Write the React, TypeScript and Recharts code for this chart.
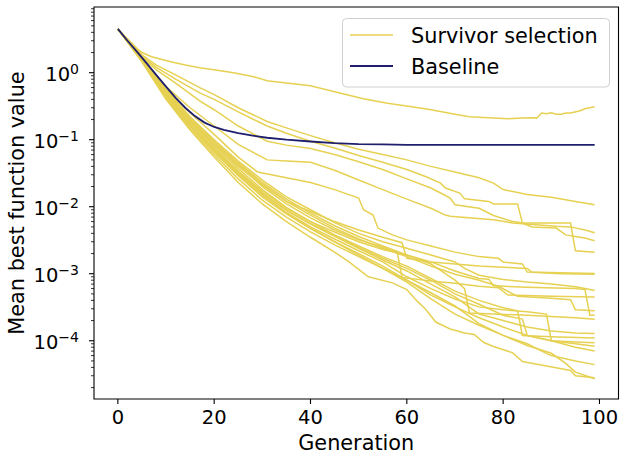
import { LineChart, Line, XAxis, YAxis, Legend, ReferenceArea } from 'recharts';

const FONT = '"DejaVu Sans", sans-serif';
const YELLOW = '#e6d152';
const NAVY = '#1f1f6e';

// plot box (px) used for axis decorations
const PLOT_LEFT = 94;
const PLOT_RIGHT = 618.5;
const PLOT_TOP = 7;
const PLOT_BOTTOM = 399;

const X_DOMAIN = [-4.95, 103.95];
const Y_DOMAIN = [1.35e-5, 9.56];

const generationTicks = [0, 20, 40, 60, 80, 100];
const decadeTicks = [1e-4, 1e-3, 1e-2, 1e-1, 1];
const minorDecades = [1e-5, 1e-4, 1e-3, 1e-2, 1e-1, 1];
const minorSteps = [2, 3, 4, 5, 6, 7, 8, 9];
const valueTicks = [
  ...decadeTicks,
  ...minorDecades.flatMap(d => minorSteps.map(m => m * d)),
].filter(v => v >= Y_DOMAIN[0] && v <= Y_DOMAIN[1]).sort((a, b) => a - b);

// [generation, mean best value]
const baselineRun = [[0, 4.5], [2, 3.0], [4, 2.05], [6, 1.38], [8, 0.92], [10, 0.62], [12, 0.42], [14, 0.3], [16, 0.225], [18, 0.18], [20, 0.155], [22, 0.14], [25, 0.125], [28, 0.115], [31, 0.107], [35, 0.1], [40, 0.094], [45, 0.089], [50, 0.086], [55, 0.085], [60, 0.084], [70, 0.084], [80, 0.084], [90, 0.084], [99, 0.084]];

const run01 = [[0, 4.5], [2, 3.2], [4, 2.3], [5, 2.0], [7, 1.73], [11, 1.46], [14, 1.3], [17, 1.19], [21, 1.08], [24, 1.0], [28, 0.88], [31, 0.76], [35, 0.7], [40, 0.64], [45, 0.52], [48, 0.46], [51, 0.41], [56, 0.35], [61, 0.31], [65, 0.28], [70, 0.24], [73, 0.22], [78, 0.21], [81, 0.205], [84, 0.21], [86, 0.212], [87, 0.21], [88, 0.25], [89, 0.245], [90, 0.252], [91, 0.24], [92, 0.24], [93, 0.25], [94, 0.25], [96, 0.27], [97, 0.29], [98, 0.3], [99, 0.31]];
const run02 = [[0, 4.5], [5, 1.85], [8, 1.3], [12, 0.93], [17, 0.6], [20, 0.47], [25, 0.3], [31, 0.187], [35, 0.15], [40, 0.115], [45, 0.09], [50, 0.072], [55, 0.06], [60, 0.05], [65, 0.04], [70, 0.033], [75, 0.027], [78, 0.0225], [80, 0.018], [85, 0.0152], [90, 0.0138], [95, 0.012], [99, 0.0107]];
const run03 = [[0, 4.5], [5, 1.75], [8, 1.2], [12, 0.8], [17, 0.5], [20, 0.4], [25, 0.26], [31, 0.16], [35, 0.125], [40, 0.095], [45, 0.075], [50, 0.058], [55, 0.046], [60, 0.036], [64, 0.028], [67, 0.0225], [68, 0.019], [71, 0.016], [72, 0.0131], [77, 0.012], [78, 0.011], [83, 0.011], [84, 0.0057], [86, 0.005], [91, 0.0048], [93, 0.0038], [95, 0.0036], [97, 0.0034], [99, 0.0031]];
const run04 = [[0, 4.5], [5, 1.7], [8, 1.1], [12, 0.7], [17, 0.38], [20, 0.28], [25, 0.16], [31, 0.095], [35, 0.083], [40, 0.074], [45, 0.06], [50, 0.047], [55, 0.036], [60, 0.026], [65, 0.019], [67, 0.016], [69, 0.0134], [70, 0.0107], [75, 0.0095], [78, 0.0074], [82, 0.006], [84, 0.0057], [94, 0.0057], [95, 0.0022], [99, 0.0021]];
const run05 = [[0, 4.5], [5, 1.62], [10, 0.62], [15, 0.3], [20, 0.16], [25, 0.085], [31, 0.05], [35, 0.048], [40, 0.046], [45, 0.035], [50, 0.025], [55, 0.018], [60, 0.013], [65, 0.0095], [68, 0.0075], [69, 0.0072], [78, 0.0064], [82, 0.0057], [91, 0.0051], [94, 0.005], [97, 0.0045], [99, 0.0041]];
const run06 = [[0, 4.5], [5, 1.6], [10, 0.56], [15, 0.25], [20, 0.12], [25, 0.055], [29, 0.033], [35, 0.027], [40, 0.023], [45, 0.018], [50, 0.0135], [51, 0.009], [53, 0.0075], [54, 0.0048], [57, 0.0038], [60, 0.0032], [65, 0.0026], [70, 0.0021], [75, 0.0018], [79, 0.0017], [80, 0.0015], [84, 0.0014], [85, 0.00106], [99, 0.00101]];
const run07 = [[0, 4.5], [5, 1.6], [10, 0.5], [15, 0.19], [20, 0.085], [25, 0.04], [30, 0.021], [35, 0.012], [40, 0.0085], [45, 0.006], [50, 0.0045], [55, 0.0035], [59, 0.0029], [60, 0.0017], [65, 0.0015], [70, 0.0014], [75, 0.0013], [80, 0.00125], [85, 0.0012], [86, 0.00105], [92, 0.001], [99, 0.00098]];
const run08 = [[0, 4.5], [5, 1.65], [10, 0.55], [15, 0.22], [20, 0.1], [25, 0.048], [30, 0.025], [35, 0.014], [40, 0.009], [45, 0.0058], [50, 0.004], [55, 0.003], [60, 0.0024], [65, 0.0019], [70, 0.0015], [72, 0.0012], [75, 0.00095], [80, 0.00082], [85, 0.00075], [90, 0.0007], [95, 0.00064], [97, 0.0006], [99, 0.00056]];
const run09 = [[0, 4.5], [5, 1.58], [10, 0.5], [15, 0.19], [20, 0.085], [25, 0.042], [30, 0.02], [35, 0.011], [40, 0.0068], [45, 0.0045], [50, 0.0032], [55, 0.0025], [58, 0.0021], [59, 0.00088], [65, 0.00078], [70, 0.00072], [75, 0.00065], [79, 0.00062], [81, 0.00048], [90, 0.00046], [99, 0.00045]];
const run10 = [[0, 4.5], [5, 1.6], [10, 0.52], [15, 0.2], [20, 0.09], [25, 0.044], [30, 0.022], [35, 0.012], [40, 0.0075], [45, 0.0048], [50, 0.0033], [55, 0.0024], [60, 0.0018], [65, 0.0013], [70, 0.00098], [75, 0.0008], [79, 0.00065], [83, 0.00046], [90, 0.00043], [94, 0.00041], [95, 0.00029], [99, 0.00028]];
const run11 = [[0, 4.5], [5, 1.55], [10, 0.47], [15, 0.17], [20, 0.075], [25, 0.034], [30, 0.017], [35, 0.0095], [40, 0.006], [45, 0.0042], [50, 0.003], [55, 0.0023], [60, 0.0019], [65, 0.0015], [70, 0.0011], [75, 0.00085], [77, 0.00083], [78, 0.00066], [85, 0.00063], [95, 0.0006], [97, 0.00058], [98, 0.00024], [99, 0.00024]];
const run12 = [[0, 4.5], [5, 1.62], [10, 0.53], [15, 0.21], [20, 0.095], [25, 0.045], [30, 0.023], [35, 0.013], [40, 0.008], [45, 0.0052], [50, 0.0036], [55, 0.0026], [60, 0.0019], [65, 0.0014], [70, 0.0008], [72, 0.0006], [73, 0.00026], [78, 0.00025], [85, 0.00024], [90, 0.00023], [95, 0.00022], [99, 0.00021]];
const run13 = [[0, 4.5], [5, 1.57], [10, 0.48], [15, 0.18], [20, 0.08], [25, 0.037], [30, 0.018], [35, 0.0098], [40, 0.006], [45, 0.0038], [50, 0.0026], [55, 0.0018], [60, 0.0013], [65, 0.00085], [70, 0.00055], [75, 0.0004], [80, 0.00031], [83, 0.00028], [84, 0.00012], [90, 0.000115], [99, 0.00011]];
const run14 = [[0, 4.5], [5, 1.55], [10, 0.46], [15, 0.17], [20, 0.072], [25, 0.033], [30, 0.016], [35, 0.0088], [40, 0.0055], [45, 0.0036], [50, 0.0024], [55, 0.0016], [60, 0.0011], [65, 0.0007], [70, 0.00045], [75, 0.00025], [80, 0.0002], [85, 0.00016], [90, 0.00014], [95, 0.00013], [99, 0.000128]];
const run15 = [[0, 4.5], [5, 1.52], [10, 0.44], [15, 0.16], [20, 0.068], [25, 0.03], [30, 0.015], [35, 0.0082], [40, 0.005], [45, 0.0033], [50, 0.0022], [55, 0.0015], [60, 0.0009], [65, 0.0006], [70, 0.00042], [75, 0.00032], [80, 0.00029], [85, 0.00027], [89, 0.00025], [90, 0.0001], [95, 0.000096], [99, 0.000093]];
const run16 = [[0, 4.5], [5, 1.5], [10, 0.43], [15, 0.155], [20, 0.065], [25, 0.029], [30, 0.014], [35, 0.0078], [40, 0.0047], [45, 0.003], [50, 0.002], [55, 0.0013], [60, 0.0008], [65, 0.00048], [70, 0.00032], [75, 0.00022], [80, 0.00016], [85, 0.00012], [90, 0.0001], [95, 0.00009], [99, 0.000083]];
const run17 = [[0, 4.5], [5, 1.53], [10, 0.45], [15, 0.165], [20, 0.07], [25, 0.032], [30, 0.016], [35, 0.009], [40, 0.0056], [45, 0.0037], [50, 0.0025], [55, 0.0017], [60, 0.0012], [65, 0.0008], [70, 0.0005], [75, 0.00035], [80, 0.00024], [84, 0.00021], [85, 0.00012], [90, 0.0001], [95, 0.00008], [99, 0.00007]];
const run18 = [[0, 4.5], [5, 1.48], [10, 0.41], [15, 0.145], [20, 0.06], [25, 0.026], [30, 0.0125], [35, 0.007], [40, 0.0042], [45, 0.0027], [50, 0.0018], [55, 0.0012], [60, 0.00075], [65, 0.00042], [70, 0.00025], [75, 0.00017], [80, 0.00012], [85, 0.00009], [88, 0.00007], [90, 0.00006], [95, 0.00005], [99, 0.000044]];
const run19 = [[0, 4.5], [5, 1.45], [10, 0.4], [15, 0.14], [20, 0.055], [25, 0.023], [30, 0.011], [35, 0.006], [40, 0.0035], [45, 0.0021], [48, 0.0015], [52, 0.0009], [57, 0.00073], [60, 0.00058], [62, 0.0004], [64, 0.00029], [66, 0.00019], [69, 0.00015], [72, 0.00013], [74, 0.000124], [76, 0.000094], [78, 0.000082], [82, 0.000066], [84, 0.000049], [89, 0.000042], [94, 0.000036], [95, 0.00003], [99, 0.000028]];
const run20 = [[0, 4.5], [5, 1.5], [10, 0.44], [15, 0.16], [20, 0.066], [25, 0.03], [30, 0.015], [35, 0.008], [40, 0.0048], [45, 0.003], [50, 0.0019], [55, 0.0012], [60, 0.0008], [65, 0.00052], [70, 0.00033], [75, 0.00018], [80, 0.00012], [85, 0.000085], [90, 0.000065], [93, 0.000046], [95, 0.000034], [99, 0.000027]];

const survivorRuns = [run01, run02, run03, run04, run05, run06, run07, run08, run09, run10, run11, run12, run13, run14, run15, run16, run17, run18, run19, run20];

const toPoints = (run: number[][]) => run.map(([gen, value]) => ({ gen, value }));

const renderXTick = (props: any) => {
  const { x, payload } = props;
  return (
    <g>
      <line x1={x} x2={x} y1={PLOT_BOTTOM} y2={PLOT_BOTTOM + 5} stroke="#000" strokeWidth={1.1} />
      <text x={x} y={PLOT_BOTTOM + 25} textAnchor="middle" fontFamily={FONT} fontSize={19.5} fill="#000">
        {payload.value}
      </text>
    </g>
  );
};

const renderYTick = (props: any) => {
  const { y, payload } = props;
  const lg = Math.log10(payload.value);
  const exp = Math.round(lg);
  const major = Math.abs(lg - exp) < 1e-6;
  return (
    <g>
      <line x1={PLOT_LEFT - (major ? 5 : 3)} x2={PLOT_LEFT} y1={y} y2={y} stroke="#000" strokeWidth={major ? 1.1 : 0.8} />
      {major && (
        <text x={79} y={y + 8} textAnchor="end" fontFamily={FONT} fontSize={19.5} fill="#000">
          <tspan>10</tspan>
          <tspan dy={-7} fontSize={14}>{exp === 0 ? '0' : '\u2212' + Math.abs(exp)}</tspan>
        </text>
      )}
    </g>
  );
};

const renderXLabel = () => (
  <text x={(PLOT_LEFT + PLOT_RIGHT) / 2} y={450} textAnchor="middle" fontFamily={FONT} fontSize={20.8} fill="#000">
    Generation
  </text>
);

const renderYLabel = () => {
  const cy = (PLOT_TOP + PLOT_BOTTOM) / 2;
  return (
    <text x={24} y={cy} transform={`rotate(-90, 24, ${cy})`} textAnchor="middle" fontFamily={FONT} fontSize={20.8} fill="#000">
      Mean best function value
    </text>
  );
};

const renderLegend = () => (
  <svg width={268} height={70} style={{ display: 'block' }}>
    <rect x={0.5} y={0.5} width={267} height={68.5} rx={4} ry={4} fill="#fff" fillOpacity={0.8} stroke="#d0d0d0" />
    <line x1={8} x2={51} y1={17} y2={17} stroke={YELLOW} strokeWidth={1.5} />
    <text x={69} y={25} fontFamily={FONT} fontSize={20.8} fill="#000">Survivor selection</text>
    <line x1={8} x2={51} y1={48} y2={48} stroke={NAVY} strokeWidth={1.8} />
    <text x={69} y={55.5} fontFamily={FONT} fontSize={20.8} fill="#000">Baseline</text>
  </svg>
);

export default function App() {
  return (
    <div style={{ position: 'absolute', left: 0, top: 0, background: '#fff' }}>
      <LineChart width={620} height={456} margin={{ top: PLOT_TOP, right: 620 - PLOT_RIGHT, bottom: 27, left: 34 }}>
        <XAxis
          type="number"
          dataKey="gen"
          domain={X_DOMAIN}
          ticks={generationTicks}
          allowDataOverflow
          interval={0}
          height={30}
          axisLine={false}
          tickLine={false}
          tick={renderXTick}
          label={{ content: renderXLabel }}
        />
        <YAxis
          type="number"
          scale="log"
          domain={Y_DOMAIN}
          ticks={valueTicks}
          allowDataOverflow
          interval={0}
          width={60}
          axisLine={false}
          tickLine={false}
          tick={renderYTick}
          label={{ content: renderYLabel }}
        />
        {survivorRuns.map((run, i) => (
          <Line
            key={`run${i}`}
            data={toPoints(run)}
            dataKey="value"
            type="linear"
            stroke={YELLOW}
            strokeWidth={1.5}
            dot={false}
            activeDot={false}
            isAnimationActive={false}
          />
        ))}
        <Line
          data={toPoints(baselineRun)}
          dataKey="value"
          type="linear"
          stroke={NAVY}
          strokeWidth={1.8}
          dot={false}
          activeDot={false}
          isAnimationActive={false}
        />
        <ReferenceArea
          x1={X_DOMAIN[0]}
          x2={X_DOMAIN[1]}
          y1={Y_DOMAIN[0]}
          y2={Y_DOMAIN[1]}
          fill="none"
          stroke="#000"
          strokeWidth={1.1}
          ifOverflow="visible"
        />
        <Legend
          layout="horizontal"
          verticalAlign="middle"
          align="center"
          content={renderLegend}
          wrapperStyle={{ left: 342, top: 18, width: 268, height: 70 }}
        />
      </LineChart>
    </div>
  );
}
